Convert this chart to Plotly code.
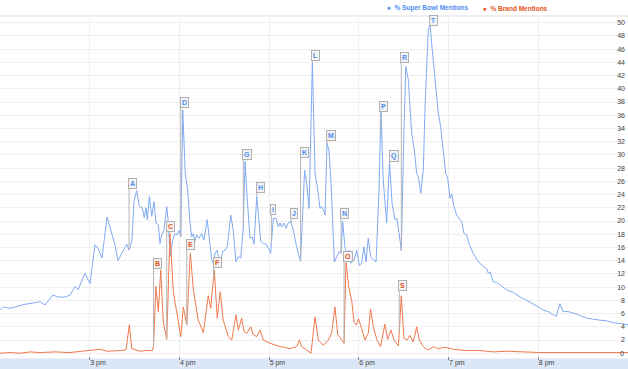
import numpy as np
import pandas as pd
import plotly.graph_objects as go

# ---------------- data ----------------
# minutes after 2:00 pm
blue_min = [0.0,2.2,6.7,10.0,16.7,22.1,26.8,30.1,35.4,38.8,
            43.5,46.8,50.2,52.2,56.8,60.2,63.5,65.5,68.2,71.6,
            74.9,76.9,78.9,81.4,84.7,86.3,88.3,89.6,91.4,93.2,
            95.2,96.5,97.6,98.5,99.9,101.5,103.0,104.3,105.9,107.0,
            108.1,109.7,111.5,112.6,113.7,115.5,117.0,118.6,119.9,120.9,
            122.2,123.9,125.5,127.1,128.2,129.3,130.4,131.6,133.1,134.9,
            136.4,138.6,140.0,141.6,142.7,143.8,145.3,147.1,148.9,150.5,
            152.0,154.3,156.0,157.8,159.4,161.0,162.7,163.9,165.4,167.2,
            168.7,169.9,171.7,173.0,174.4,176.1,177.9,179.4,181.0,182.8,
            184.6,186.1,187.3,188.4,189.9,191.3,192.8,194.4,196.2,198.4,
            201.0,202.4,203.7,205.1,206.7,208.9,210.7,212.2,214.0,215.1,
            216.2,217.4,218.7,220.0,221.4,223.6,225.2,226.9,228.1,229.2,
            230.7,231.9,233.4,234.7,236.8,238.6,240.3,241.9,243.4,244.8,
            246.3,247.9,249.7,251.5,253.5,254.8,256.3,258.6,260.5,262.2,
            264.2,265.5,266.9,268.4,270.0,271.4,273.1,275.3,277.1,278.7,
            279.8,281.4,283.1,284.2,286.4,287.6,289.1,291.4,293.1,294.7,
            296.5,298.1,299.4,301.0,302.1,303.6,305.4,307.6,308.8,310.3,
            312.1,313.9,316.5,319.2,321.0,322.2,325.5,326.6,327.7,329.9,
            332.2,335.5,338.9,343.3,347.8,352.3,356.7,360.0,363.4,366.7,
            370.0,372.0,374.5,376.5,380.1,385.7,392.4,396.8,401.3,405.8,
            410.2,414.7,420.0]
blue_val = [6.5,7.0,6.8,7.0,7.4,7.6,7.8,7.3,8.8,8.5,
            8.5,8.8,10.1,9.6,12.1,10.5,16.4,15.9,14.4,20.6,
            18.2,16.4,14.0,15.0,16.5,15.6,17.1,22.9,24.6,22.2,
            22.0,20.5,22.0,20.2,23.7,20.7,22.9,19.7,19.4,16.6,
            17.9,18.6,22.2,19.7,14.6,17.1,18.1,17.9,18.6,17.6,
            36.8,27.2,24.7,19.7,17.6,18.1,16.9,17.9,17.4,18.1,
            17.1,20.2,16.9,14.1,13.6,15.1,15.6,13.3,15.4,15.6,
            16.1,20.9,18.6,13.8,14.6,14.4,19.1,29.0,23.2,17.4,
            17.6,16.5,23.7,19.9,16.9,16.6,16.5,15.9,15.1,20.4,
            20.4,19.1,19.7,19.1,19.7,18.9,19.7,19.9,18.6,16.1,
            13.9,20.9,27.7,25.7,21.9,43.9,27.2,25.2,21.9,22.2,
            21.7,20.9,31.8,30.7,25.7,13.8,14.6,15.4,15.1,19.9,
            16.1,15.1,15.6,13.6,14.1,15.6,13.3,13.6,16.1,13.8,
            17.4,14.6,14.1,13.8,24.7,36.8,26.2,19.7,28.9,22.7,
            20.2,20.4,18.1,15.5,32.3,43.4,41.3,33.3,30.7,27.2,
            26.7,24.2,27.7,36.8,48.9,49.7,45.9,39.8,36.3,34.3,
            30.7,27.2,26.5,23.4,24.1,22.2,20.9,20.2,19.9,18.1,
            17.9,16.4,15.1,14.1,13.6,13.3,12.8,12.1,12.3,10.8,
            10.7,10.1,9.6,9.2,8.5,8.0,7.5,7.0,6.5,6.3,
            5.8,5.6,7.5,6.3,6.3,5.9,5.3,5.1,5.0,4.9,
            4.6,4.5,4.3]

brand_min = [0.0,6.7,13.4,20.1,26.8,36.8,46.8,55.5,60.2,66.9,
             71.6,75.6,80.3,84.3,86.5,88.1,93.6,98.3,102.0,102.7,
             104.3,105.9,107.5,109.2,111.5,113.7,115.9,118.2,120.9,122.6,
             124.9,127.3,129.3,132.6,136.0,139.3,140.9,143.3,145.3,147.3,
             149.3,152.7,155.0,157.8,159.4,161.6,163.2,165.0,167.7,169.4,
             171.7,173.9,176.1,180.6,187.3,194.0,198.4,200.2,201.8,205.1,
             208.0,210.7,212.9,216.2,219.6,221.8,224.0,225.9,228.5,230.1,
             231.4,233.3,235.2,236.8,238.3,239.8,241.9,244.1,246.3,247.8,
             249.7,252.1,254.5,257.4,259.2,261.5,263.5,266.5,268.4,270.1,
             272.2,274.2,276.4,278.7,280.4,283.1,286.4,289.8,293.1,297.6,
             303.2,307.6,312.1,321.0,329.9,338.9,350.0,361.1,374.5,387.9,
             401.3,420.0]
brand_val = [0.0,0.1,0.0,0.2,0.1,0.2,0.1,0.3,0.4,0.6,
             0.3,0.3,0.4,0.5,4.3,0.7,0.3,0.4,0.4,1.2,
             10.1,6.3,12.6,4.7,2.1,18.1,9.3,6.2,2.5,7.0,
             4.3,15.1,9.6,5.0,3.1,8.7,6.8,12.6,5.3,9.3,
             5.0,2.5,2.0,5.8,3.5,5.3,3.3,3.0,4.0,2.8,
             2.5,3.5,2.0,1.5,1.0,0.7,1.0,2.0,1.0,0.5,
             0.0,5.5,2.0,1.2,2.0,3.0,7.0,2.8,2.0,1.5,
             13.7,9.9,8.0,4.7,4.3,5.2,3.7,2.0,3.0,6.7,
             4.0,2.0,1.0,4.4,2.1,3.5,2.0,1.1,8.7,2.3,
             2.0,2.7,1.7,4.0,2.0,1.0,0.5,1.0,0.7,0.9,
             0.6,0.5,0.4,0.4,0.2,0.3,0.2,0.1,0.1,0.1,
             0.1,0.1]

flag_letters = list("ABCDEFGHIJKLMNOPQRST")
flag_series = ["super", "brand", "brand", "super", "brand", "brand", "super",
               "super", "super", "super", "super", "super", "super", "super",
               "brand", "super", "super", "super", "brand", "super"]
flag_min = [86.3, 102.7, 111.5, 120.9, 124.9, 142.8, 162.7, 171.7, 181.5, 194.8,
            201.0, 208.9, 218.7, 228.1, 230.1, 254.4, 260.5, 268.4, 267.0, 287.6]

hour_min = [60, 120, 180, 240, 300, 360]
hour_labels = ["3 pm", "4 pm", "5 pm", "6 pm", "7 pm", "8 pm"]
y_ticks = list(range(0, 51, 2))

series_names = {"super": "% Super Bowl Mentions", "brand": "% Brand Mentions"}

# ---------------- layout helpers (positions / styles) ----------------
flag_box_y = [25.7, 13.5, 19.2, 38.0, 16.4, 13.8, 30.0, 25.1, 21.8, 21.2,
              30.4, 45.1, 32.9, 21.2, 14.6, 37.3, 29.9, 44.7, 10.2, 50.4]

W, H = 628, 369
MT, MB = 18, 13
PH = H - MT - MB

BLUE_LINE = "#80aaf3"
ORANGE_LINE = "#f0784c"
BLUE_TXT = "#4f8ef0"
ORANGE_TXT = "#e65220"
FONT = "Arial, Liberation Sans, sans-serif"
TICK_FONT = dict(family=FONT, size=7, color="#444444")

base = pd.Timestamp("2012-02-05 14:00")


def tm(m):
    return base + pd.to_timedelta(np.asarray(m, dtype=float), unit="m")


def px_to_paper_y(py):
    return (H - MB - py) / PH


fig = go.Figure()
fig.add_trace(go.Scatter(x=tm(blue_min), y=blue_val, mode="lines",
                         name=series_names["super"],
                         line=dict(color=BLUE_LINE, width=1), hoverinfo="skip"))
fig.add_trace(go.Scatter(x=tm(brand_min), y=brand_val, mode="lines",
                         name=series_names["brand"],
                         line=dict(color=ORANGE_LINE, width=1), hoverinfo="skip"))

shapes = []
annotations = []

# bottom axis bar
shapes.append(dict(type="rect", xref="paper", yref="paper", x0=0, x1=1,
                   y0=px_to_paper_y(358.5), y1=px_to_paper_y(369.5),
                   fillcolor="#dbe6f6", line=dict(width=0), layer="below"))
# top border
shapes.append(dict(type="line", xref="paper", yref="paper", x0=0, x1=1,
                   y0=px_to_paper_y(16), y1=px_to_paper_y(16),
                   line=dict(color="#dddddd", width=1)))

# flags
for letter, ser, m, by in zip(flag_letters, flag_series, flag_min, flag_box_y):
    if ser == "super":
        v = float(np.interp(m, blue_min, blue_val))
        col = BLUE_TXT
    else:
        v = float(np.interp(m, brand_min, brand_val))
        col = ORANGE_TXT
    t = tm([m])[0]
    shapes.append(dict(type="line", xref="x", yref="y", x0=t, x1=t, y0=v, y1=by,
                       line=dict(color="#b5b5b5", width=1)))
    annotations.append(dict(x=t, y=by, xref="x", yref="y", text="<b>%s</b>" % letter,
                            showarrow=False, xanchor="left", yanchor="middle", xshift=-1,
                            font=dict(family=FONT, size=7, color=col),
                            bgcolor="#f3f3f3", bordercolor="#b0b0b0", borderwidth=1,
                            borderpad=1))

# "0" tick label (plotly hides inside labels that touch the plot edge)
annotations.append(dict(x=1, y=y_ticks[0], xref="paper", yref="y", text=str(y_ticks[0]),
                        showarrow=False, xanchor="right", yanchor="middle", xshift=-2,
                        font=TICK_FONT))

# legend
annotations.append(dict(x=385 / W, y=px_to_paper_y(8), xref="paper", yref="paper",
                        text="<b>●  %s</b>" % series_names["super"], showarrow=False,
                        xanchor="left", yanchor="middle",
                        font=dict(family=FONT, size=6.5, color=BLUE_TXT)))
annotations.append(dict(x=481 / W, y=px_to_paper_y(8), xref="paper", yref="paper",
                        text="<b>●  %s</b>" % series_names["brand"], showarrow=False,
                        xanchor="left", yanchor="middle",
                        font=dict(family=FONT, size=6.5, color=ORANGE_TXT)))

fig.update_layout(
    width=W, height=H,
    margin=dict(l=0, r=0, t=MT, b=MB, pad=0),
    paper_bgcolor="white", plot_bgcolor="white",
    showlegend=False,
    shapes=shapes, annotations=annotations,
    font=dict(family=FONT, size=7, color="#444444"),
)
fig.update_xaxes(type="date", range=[tm([0])[0], tm([420])[0]],
                 tickmode="array", tickvals=tm(hour_min), ticktext=hour_labels,
                 showgrid=True, gridcolor="#eeeeee", gridwidth=1,
                 ticks="outside", ticklen=3, tickcolor="#888888", tickwidth=1,
                 ticklabelposition="outside right",
                 tickfont=TICK_FONT,
                 showline=False, zeroline=False, fixedrange=True)
fig.update_yaxes(range=[-0.42, 50.71], tickmode="array", tickvals=y_ticks,
                 ticktext=[str(v) for v in y_ticks],
                 side="right", ticklabelposition="inside",
                 showgrid=True, gridcolor="#efefef", gridwidth=1,
                 zeroline=False, showline=False, ticks="",
                 tickfont=TICK_FONT,
                 fixedrange=True)

fig.write_html("out.html", config={"displayModeBar": False},
               post_script="document.body.style.margin='0px';document.body.style.overflow='hidden';")
